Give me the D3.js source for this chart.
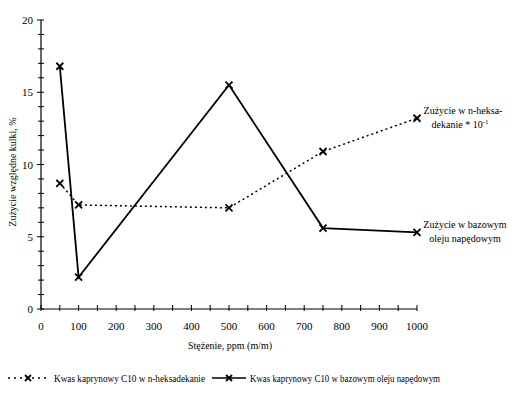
<!DOCTYPE html>
<html>
<head>
<meta charset="utf-8">
<script src="https://cdn.jsdelivr.net/npm/d3@7"></script>
<style>
  body { margin: 0; background: #fff; }
  svg text { font-family: "Liberation Serif", "Times New Roman", Times, "DejaVu Serif", serif; fill: #000; }
  .tick-label { font-size: 11px; }
  .ann { font-size: 10px; }
</style>
</head>
<body>
<svg id="chart" width="520" height="394"></svg>
<script>
const concentrations = [50, 100, 500, 750, 1000];
const hexadecaneWear = [8.7, 7.2, 7.0, 10.9, 13.2];
const dieselWear = [16.8, 2.2, 15.5, 5.6, 5.3];
const xTickLabels = [0, 100, 200, 300, 400, 500, 600, 700, 800, 900, 1000];
const yTickLabels = [0, 5, 10, 15, 20];
const seriesNames = ["Kwas kaprynowy C10 w n-heksadekanie", "Kwas kaprynowy C10 w bazowym oleju napędowym"];

const svg = d3.select("#chart");
const x = d3.scaleLinear().domain([0, 1000]).range([41, 417]);
const y = d3.scaleLinear().domain([0, 20]).range([309, 20]);

// axes (ticks cross the axis line)
svg.append("line").attr("x1", x(0)).attr("x2", x(0)).attr("y1", y(0)).attr("y2", y(20))
  .attr("stroke", "#000").attr("stroke-width", 1.2);
svg.append("line").attr("x1", x(0)).attr("x2", x(1000)).attr("y1", y(0)).attr("y2", y(0))
  .attr("stroke", "#000").attr("stroke-width", 1.2);

d3.range(0, 21, 1).forEach((v) => {
  const major = v % 5 === 0;
  svg.append("line").attr("x1", x(0) - (major ? 4 : 3)).attr("x2", x(0) + 3)
    .attr("y1", y(v)).attr("y2", y(v)).attr("stroke", "#000").attr("stroke-width", 1);
});
yTickLabels.forEach((v) => {
  svg.append("text").attr("class", "tick-label").attr("x", x(0) - 8).attr("y", y(v) + 4)
    .attr("text-anchor", "end").text(v);
});

d3.range(0, 1001, 50).forEach((v) => {
  svg.append("line").attr("x1", x(v)).attr("x2", x(v))
    .attr("y1", y(0) - 4).attr("y2", y(0) + 2).attr("stroke", "#000").attr("stroke-width", 1);
});
xTickLabels.forEach((v) => {
  svg.append("text").attr("class", "tick-label").attr("x", x(v)).attr("y", y(0) + 21)
    .attr("text-anchor", "middle").text(v);
});

svg.append("text").attr("class", "ann").attr("font-size", 11)
  .attr("x", 230).attr("y", 349).attr("text-anchor", "middle").text("Stężenie, ppm (m/m)");
svg.append("text").attr("class", "ann").attr("font-size", 12)
  .attr("transform", "translate(16,172) rotate(-90)").attr("text-anchor", "middle")
  .text("Zużycie względne kulki, %");

const line = d3.line().x((d) => x(d[0])).y((d) => y(d[1]));

function cross(g, cx, cy, r) {
  g.append("path").attr("d", `M${cx - r},${cy - r}L${cx + r},${cy + r}M${cx - r},${cy + r}L${cx + r},${cy - r}`)
    .attr("stroke", "#000").attr("stroke-width", 1.8).attr("fill", "none");
}

const dotted = concentrations.map((c, i) => [c, hexadecaneWear[i]]);
const solid = concentrations.map((c, i) => [c, dieselWear[i]]);

svg.append("path").attr("d", line(dotted)).attr("fill", "none").attr("stroke", "#000")
  .attr("stroke-width", 1.5).attr("stroke-dasharray", "2,3");
svg.append("path").attr("d", line(solid)).attr("fill", "none").attr("stroke", "#000")
  .attr("stroke-width", 1.8);

dotted.forEach((d) => cross(svg, x(d[0]), y(d[1]), 3.5));
solid.forEach((d) => cross(svg, x(d[0]), y(d[1]), 3.5));

// annotations
const a1 = svg.append("text").attr("class", "ann").attr("text-anchor", "middle");
a1.append("tspan").attr("x", 463).attr("y", 114).text("Zużycie w n-heksa-");
const t2 = a1.append("tspan").attr("x", 460).attr("y", 128).text("dekanie * 10");
t2.append("tspan").attr("font-size", 7).attr("dy", -4).text("-1");

const a2 = svg.append("text").attr("class", "ann").attr("text-anchor", "middle");
a2.append("tspan").attr("x", 465).attr("y", 228).text("Zużycie w bazowym");
a2.append("tspan").attr("x", 465).attr("y", 242).text("oleju napędowym");

// legend
const ly = 378;
svg.append("line").attr("x1", 8).attr("x2", 50).attr("y1", ly).attr("y2", ly)
  .attr("stroke", "#000").attr("stroke-width", 1.5).attr("stroke-dasharray", "2,4");
cross(svg, 28, ly, 3);
svg.append("text").attr("class", "ann").attr("x", 54).attr("y", ly + 3.5)
  .attr("textLength", 151).attr("lengthAdjust", "spacingAndGlyphs").text(seriesNames[0]);
svg.append("line").attr("x1", 212).attr("x2", 246).attr("y1", ly).attr("y2", ly)
  .attr("stroke", "#000").attr("stroke-width", 1.5);
cross(svg, 229, ly, 3);
svg.append("text").attr("class", "ann").attr("x", 250).attr("y", ly + 3.5)
  .attr("textLength", 190).attr("lengthAdjust", "spacingAndGlyphs").text(seriesNames[1]);
</script>
</body>
</html>
